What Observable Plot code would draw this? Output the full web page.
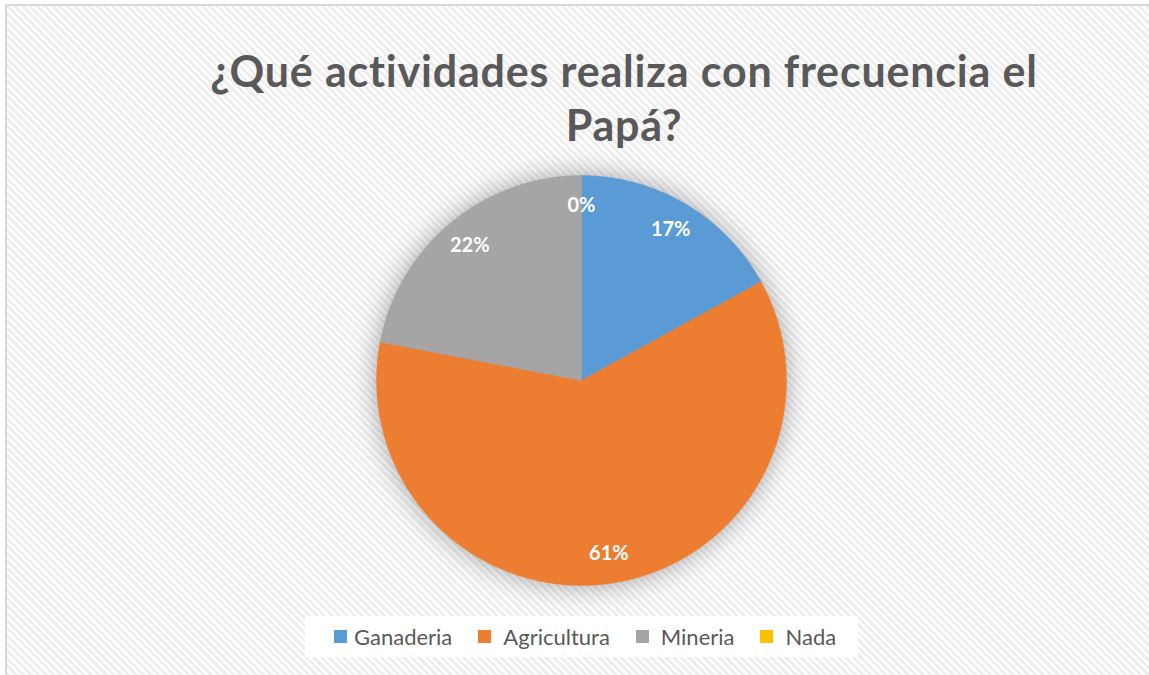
<!DOCTYPE html>
<html>
<head>
<meta charset="utf-8">
<script src="https://cdn.jsdelivr.net/npm/d3@7"></script>
<script src="https://cdn.jsdelivr.net/npm/@observablehq/plot@0.6"></script>
<style>
  html, body { margin: 0; padding: 0; background: #ffffff; }
  body { width: 1149px; height: 675px; position: relative; overflow: hidden; font-family: Lato, "Open Sans", sans-serif; }
  #frame {
    position: absolute; left: 5px; top: 4px; width: 1150px; height: 680px;
    border-top: 2px solid #d9d9d9; border-left: 2px solid #d9d9d9;
    background: repeating-linear-gradient(45deg, #fdfdfd 0px, #fdfdfd 2.7px, #ededed 2.7px, #ededed 5.3px);
  }
  #title {
    position: absolute; left: 0; width: 1248px; top: 44px; text-align: center;
    font-family: Lato, sans-serif; font-weight: bold; font-size: 43px; letter-spacing: 0.8px; line-height: 54px; color: #595959;
  }
  #pie { position: absolute; left: 331px; top: 130px; }
  #pie svg { overflow: visible; background: transparent; }
  #pie g[aria-label="line"] { filter: drop-shadow(0px 0px 13px rgba(0,0,0,0.34)); }
  #legendbox {
    position: absolute; left: 305px; top: 616px; width: 524px; height: 41px; padding-left: 29px;
    background: #ffffff; display: flex; align-items: center; overflow: visible;
  }
  #legendbox .lg-swatches { margin: 0; min-height: 0; font-family: Lato, sans-serif; font-size: 22px; color: #595959;
    flex-wrap: nowrap !important; white-space: nowrap; width: max-content; }
  #legendbox .lg-swatches-wrap .lg-swatch { margin-right: 26px; white-space: nowrap; }
  #legendbox .lg-swatches-wrap .lg-swatch:last-of-type { margin-right: 0; }
  #legendbox .lg-swatches-wrap .lg-swatch > svg { margin-right: 12px; }
  #legendbox .lg-swatches-wrap .lg-swatch:first-of-type > svg { margin-right: 7px; }
</style>
</head>
<body>
<div id="frame"></div>
<div id="title">¿Qué actividades realiza con frecuencia el<br>Papá?</div>
<div id="pie"></div>
<div id="legendbox"></div>
<script>
const categories = ["Ganaderia", "Agricultura", "Mineria", "Nada"];
const values = [17, 61, 22, 0];
const labels = ["17%", "61%", "22%", "0%"];
const colors = ["#5B9BD5", "#ED7D31", "#A5A5A5", "#FFC000"];

const arcs = d3.pie().sort(null).value(d => d.value)(
  categories.map((c, i) => ({cat: c, value: values[i], label: labels[i]}))
);

// polygon outline of each slice in unit-circle coordinates (y up)
const slicePts = [];
for (const a of arcs) {
  if (a.data.value <= 0) continue;
  const n = Math.max(2, Math.ceil((a.endAngle - a.startAngle) / (Math.PI / 180)));
  slicePts.push({cat: a.data.cat, x: 0, y: 0});
  for (let k = 0; k <= n; k++) {
    const t = a.startAngle + (a.endAngle - a.startAngle) * k / n;
    slicePts.push({cat: a.data.cat, x: Math.sin(t), y: Math.cos(t)});
  }
  slicePts.push({cat: a.data.cat, x: 0, y: 0});
}
const labelPts = arcs.map(a => {
  const m = (a.startAngle + a.endAngle) / 2;
  return {cat: a.data.cat, label: a.data.label, x: 0.855 * Math.sin(m), y: 0.855 * Math.cos(m)};
});

const color = {domain: categories, range: colors};
const chart = Plot.plot({
  width: 500, height: 500, margin: 0,
  x: {domain: [-1.22, 1.22], axis: null},
  y: {domain: [-1.22, 1.22], axis: null},
  color,
  style: {background: "transparent"},
  marks: [
    Plot.line(slicePts, {x: "x", y: "y", z: "cat", fill: "cat", stroke: "cat", strokeWidth: 0.5, curve: "linear-closed"}),
    Plot.text(labelPts, {x: "x", y: "y", text: "label", fill: "#ffffff", fontSize: 20, fontWeight: "bold", fontFamily: "Lato, sans-serif"})
  ]
});
document.getElementById("pie").appendChild(chart);

const legend = Plot.legend({color, legend: "swatches", swatchSize: 13, className: "lg"});
document.getElementById("legendbox").appendChild(legend);
</script>
</body>
</html>
